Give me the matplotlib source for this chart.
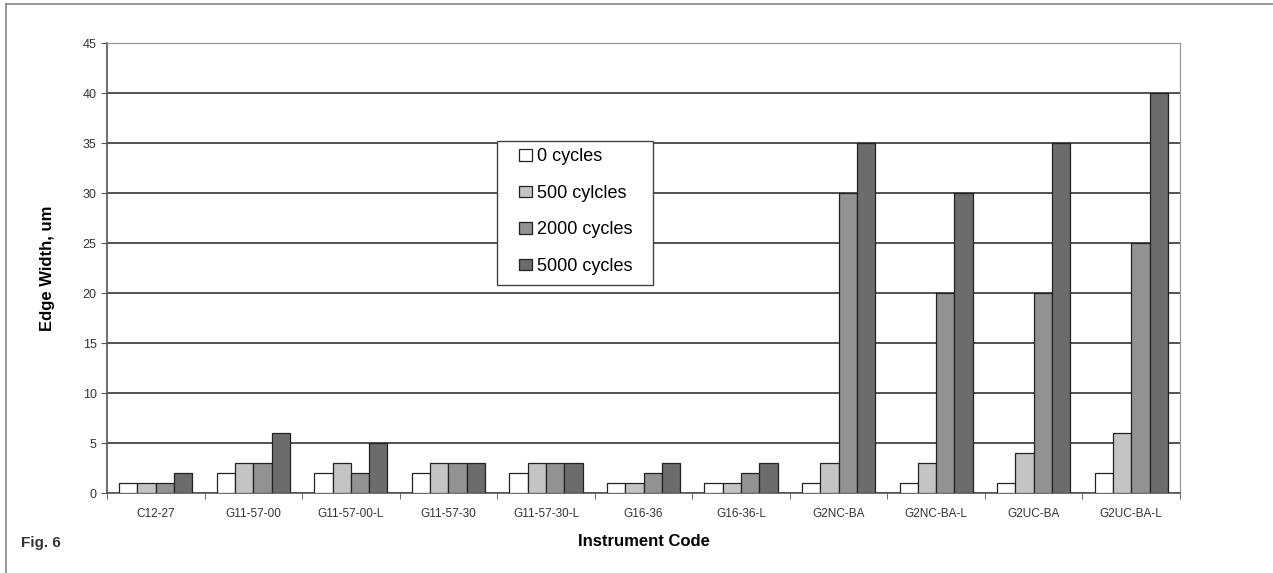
import numpy as np
import matplotlib
matplotlib.use("Agg")
import matplotlib.pyplot as plt
from matplotlib.patches import Rectangle

plt.rcParams['font.family'] = ['Liberation Sans', 'DejaVu Sans']

codes = ["C12-27", "G11-57-00", "G11-57-00-L", "G11-57-30", "G11-57-30-L",
         "G16-36", "G16-36-L", "G2NC-BA", "G2NC-BA-L", "G2UC-BA", "G2UC-BA-L"]
series_names = ["0 cycles", "500 cylcles", "2000 cycles", "5000 cycles"]
cyc0 = [1, 2, 2, 2, 2, 1, 1, 1, 1, 1, 2]
cyc500 = [1, 3, 3, 3, 3, 1, 1, 3, 3, 4, 6]
cyc2000 = [1, 3, 2, 3, 3, 2, 2, 30, 20, 20, 25]
cyc5000 = [2, 6, 5, 3, 3, 3, 3, 35, 30, 35, 40]
colors = ["#ffffff", "#c4c4c4", "#929292", "#6c6c6c"]

fig = plt.figure(figsize=(12.73, 5.73), dpi=100)
ax = fig.add_axes([107 / 1273, 80 / 573, 1073 / 1273, 450 / 573])

x = np.arange(len(codes))
w = 0.1875
for i, vals in enumerate([cyc0, cyc500, cyc2000, cyc5000]):
    ax.bar(x + (i - 1.5) * w, vals, w, color=colors[i], edgecolor="#222222",
           linewidth=0.9, label=series_names[i], zorder=3)

ax.set_xlim(-0.5, len(codes) - 0.5)
ax.set_ylim(0, 45)
ax.set_yticks(range(0, 46, 5))
ax.yaxis.grid(True, color="#444444", linewidth=1.3, zorder=0)
ax.set_xticks(x)
ax.set_xticklabels(codes, fontsize=8.5, color="#333333")
ax.set_xticks(np.arange(-0.5, len(codes), 1), minor=True)
ax.tick_params(axis="x", which="major", length=0, pad=11)
ax.tick_params(axis="x", which="minor", length=4, color="#555555")
ax.tick_params(axis="y", length=4, labelsize=9, labelcolor="#333333", color="#555555")

for s in ["top", "right"]:
    ax.spines[s].set_color("#999999")
    ax.spines[s].set_linewidth(0.9)
ax.spines["left"].set_color("#555555")
ax.spines["bottom"].set_color("#555555")
ax.spines["left"].set_linewidth(1.2)
ax.spines["bottom"].set_linewidth(1.2)

ax.set_ylabel("Edge Width, um", fontsize=12, fontweight="bold", labelpad=20)
ax.set_xlabel("Instrument Code", fontsize=12, fontweight="bold", labelpad=10)

# legend box drawn separately so its size matches the original
box = Rectangle((0.3635, 0.462), 0.1455, 0.32, transform=ax.transAxes,
                facecolor="white", edgecolor="#444444", linewidth=1.0, zorder=5)
ax.add_patch(box)
leg = ax.legend(loc="upper left", bbox_to_anchor=(0.384, 0.766), fontsize=13,
                frameon=False, handlelength=0.72, handleheight=0.62,
                handletextpad=0.3, labelspacing=1.08, borderpad=0,
                borderaxespad=0)
leg.set_zorder(6)

# outer frame of the figure panel
fig.add_artist(plt.Line2D([6 / 1273, 6 / 1273], [0, 1 - 4 / 573],
                          transform=fig.transFigure, color="#888888", linewidth=1.2))
fig.add_artist(plt.Line2D([6 / 1273, 1], [1 - 4 / 573, 1 - 4 / 573],
                          transform=fig.transFigure, color="#888888", linewidth=1.2))

fig.text(21 / 1273, 1 - 543 / 573, "Fig. 6", fontsize=11, fontweight="bold",
         color="#333333", va="center",
         family=["Liberation Sans Narrow", "Liberation Sans", "DejaVu Sans"])

fig.savefig("out.png", dpi=100)
